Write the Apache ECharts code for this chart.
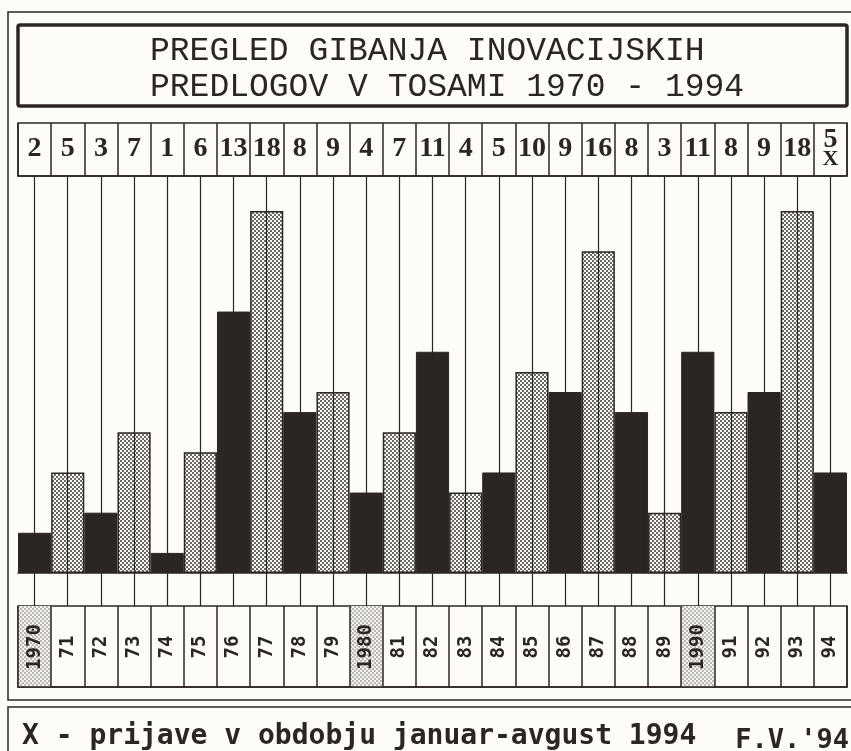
<!DOCTYPE html>
<html><head><meta charset="utf-8">
<script src="https://cdn.jsdelivr.net/npm/echarts/dist/echarts.min.js"></script>
<style>html,body{margin:0;padding:0;background:#fdfcf8}#c{width:851px;height:751px}</style>
</head><body><div id="c"></div>
<script>
// ---- data ----
const titleLines = ['PREGLED GIBANJA INOVACIJSKIH', 'PREDLOGOV V TOSAMI 1970 - 1994'];
const yearLabels = ['1970','71','72','73','74','75','76','77','78','79','1980','81','82','83','84','85','86','87','88','89','1990','91','92','93','94'];
const proposals = [2,5,3,7,1,6,13,18,8,9,4,7,11,4,5,10,9,16,8,3,11,8,9,18,5];
const decadeYears = ['1970','1980','1990'];
const partialYear = '94';
const partialMark = 'X';
const footnote = 'X - prijave v obdobju januar-avgust 1994';
const signature = "F.V.'94";

// ---- styles ----
const ink = '#2b2622';
function makePattern(size, dots, r, dotColor, bg) {
  const c = document.createElement('canvas');
  c.width = c.height = size;
  const g = c.getContext('2d');
  g.fillStyle = bg; g.fillRect(0, 0, size, size);
  g.fillStyle = dotColor;
  dots.forEach(([x, y]) => { g.beginPath(); g.arc(x, y, r, 0, Math.PI * 2); g.fill(); });
  return { image: c, repeat: 'repeat' };
}
const barDots = makePattern(4, [[1,1],[3,3]], 0.95, '#2f2a26', '#fbfaf6');
const boxDots = makePattern(4, [[1,1],[3,3]], 0.75, '#6a645e', '#f4f2ed');

const chart = echarts.init(document.getElementById('c'), null, { renderer: 'canvas' });
const L = 18, R = 4;

chart.setOption({
  animation: false,
  backgroundColor: '#fdfcf8',
  title: [
    { text: titleLines.join('\n'), left: 150, top: 33, padding: 0,
      textStyle: { fontFamily: 'Liberation Mono', fontSize: 33, fontWeight: 'normal', color: ink, lineHeight: 36 } },
    { text: footnote, left: 22, top: 723, padding: 0,
      textStyle: { fontFamily: 'DejaVu Sans Mono', fontSize: 28, fontWeight: 'bold', color: ink, lineHeight: 28 } },
    { text: signature, right: 2, top: 727, padding: 0,
      textStyle: { fontFamily: 'DejaVu Sans Mono', fontSize: 27, fontWeight: 'bold', color: ink, lineHeight: 28 } }
  ],
  graphic: [
    { type: 'rect', shape: { x: 8, y: 12, width: 870, height: 688 }, style: { fill: 'none', stroke: ink, lineWidth: 1.5 }, silent: true },
    { type: 'rect', shape: { x: 18, y: 25, width: 829, height: 81, r: 2 }, style: { fill: 'none', stroke: ink, lineWidth: 3.5 }, silent: true },
    { type: 'rect', shape: { x: 8, y: 707, width: 870, height: 80 }, style: { fill: 'none', stroke: ink, lineWidth: 1.5 }, silent: true }
  ],
  grid: [
    { left: L, right: R, top: 123, height: 53, show: true, borderColor: ink, borderWidth: 1.5, backgroundColor: 'transparent' },
    { left: L, right: R, top: 176, height: 430, show: false },
    { left: L, right: R, top: 606, height: 81, show: true, borderColor: ink, borderWidth: 1.5, backgroundColor: 'transparent' }
  ],
  xAxis: [
    { gridIndex: 0, type: 'category', data: yearLabels, position: 'top',
      axisLine: { show: true, lineStyle: { color: ink, width: 1.5 } }, axisTick: { show: false },
      splitLine: { show: true, interval: 0, lineStyle: { color: ink, width: 1.5 } },
      axisLabel: { inside: true, interval: 0, margin: 26, verticalAlign: 'middle', align: 'center',
        fontFamily: 'Liberation Serif', fontSize: 28, fontWeight: 'bold', color: ink, lineHeight: 20,
        formatter: (v, i) => v === partialYear ? proposals[i] + '\n{x|' + partialMark + '}' : String(proposals[i]),
        rich: { x: { fontFamily: 'Liberation Serif', fontSize: 22, fontWeight: 'bold', color: ink, lineHeight: 18 } } } },
    { gridIndex: 1, type: 'category', data: yearLabels,
      axisLine: { show: true, onZero: true, lineStyle: { color: ink, width: 1.5 } }, axisTick: { show: false },
      axisLabel: { show: false }, splitLine: { show: false } },
    { gridIndex: 2, type: 'category', data: yearLabels, position: 'bottom',
      axisLine: { show: true, lineStyle: { color: ink, width: 1.5 } }, axisTick: { show: false },
      splitLine: { show: true, interval: 0, lineStyle: { color: ink, width: 1.5 } },
      splitArea: { show: true, interval: 0, areaStyle: { color: yearLabels.map(y => decadeYears.includes(y) ? boxDots : 'rgba(0,0,0,0)') } },
      axisLabel: { inside: true, interval: 0, rotate: 90, align: 'center', verticalAlign: 'middle', margin: 40,
        fontFamily: 'DejaVu Sans Mono', fontSize: 19, fontWeight: 'bold', color: ink } }
  ],
  yAxis: [
    { gridIndex: 0, type: 'value', show: false, min: 0, max: 1 },
    { gridIndex: 1, type: 'value', show: false, min: -1.64, max: 19.74 },
    { gridIndex: 2, type: 'value', show: false, min: 0, max: 1 }
  ],
  series: [
    { type: 'line', xAxisIndex: 1, yAxisIndex: 1, data: proposals, symbol: 'none', z: 1, silent: true,
      lineStyle: { opacity: 0 },
      markLine: { silent: true, symbol: ['none', 'none'], label: { show: false },
        lineStyle: { color: ink, width: 1.2, type: 'solid' },
        data: yearLabels.map(y => ({ xAxis: y })) } },
    { type: 'bar', xAxisIndex: 1, yAxisIndex: 1, barWidth: '100%', barCategoryGap: 0, z: 3,
      data: proposals.map((v, i) => ({ value: v,
        itemStyle: i % 2 === 0 ? { color: ink, borderColor: ink, borderWidth: 1 }
                               : { color: barDots, borderColor: ink, borderWidth: 1.5 } })) }
  ]
});
</script></body></html>
